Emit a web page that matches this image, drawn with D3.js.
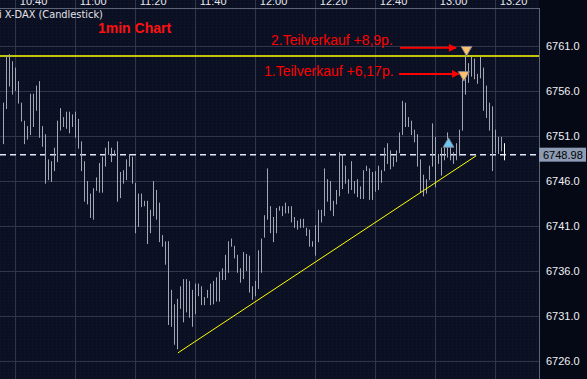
<!DOCTYPE html>
<html><head><meta charset="utf-8">
<script src="https://cdn.jsdelivr.net/npm/d3@7"></script>
<style>
html,body{margin:0;padding:0;background:#050916;}
svg{display:block;}
</style></head>
<body>
<svg id="c" width="587" height="379"></svg>
<script>
// ---- data (1-minute bars starting 10:36) ----
const startLabel = "10:36";
const highs = [6754.7,6759.9,6760.1,6759.3,6758.6,6757.1,6754.7,6752.7,6752.1,6755.7,
6755.7,6756.6,6757.1,6752.1,6751.2,6748.4,6748.2,6749.7,6752.7,6754.1,
6753.1,6753.7,6753.7,6753.4,6753.7,6752.9,6750.4,6748.2,6746.0,6744.6,
6745.2,6746.4,6748.0,6748.7,6749.7,6750.4,6749.7,6749.4,6750.4,6747.0,
6747.2,6748.4,6749.0,6748.7,6745.8,6744.6,6744.6,6743.8,6743.8,6742.8,
6746.0,6745.0,6743.6,6740.0,6739.3,6739.3,6733.9,6732.3,6732.9,6734.3,
6735.1,6735.1,6734.9,6733.9,6734.6,6734.6,6734.3,6733.1,6733.9,6734.6,
6734.9,6735.3,6735.9,6736.3,6737.8,6739.3,6739.6,6738.8,6737.8,6736.3,
6738.1,6737.9,6737.7,6734.3,6734.9,6738.3,6739.6,6742.2,6747.4,6743.2,
6742.0,6743.0,6743.2,6743.2,6743.6,6743.2,6743.2,6742.0,6741.6,6741.8,
6741.8,6740.8,6740.6,6739.3,6741.1,6742.8,6742.8,6747.4,6746.2,6746.0,
6743.8,6745.0,6749.2,6749.0,6747.7,6746.2,6748.2,6746.0,6746.2,6745.4,
6747.2,6747.7,6747.4,6747.0,6747.1,6747.7,6747.2,6749.7,6750.2,6749.4,
6748.7,6749.4,6751.4,6754.9,6754.7,6753.1,6752.7,6751.7,6751.2,6748.4,
6746.7,6746.2,6747.7,6752.4,6750.9,6749.0,6749.7,6749.7,6751.4,6750.2,
6749.2,6750.2,6751.7,6757.8,6759.9,6759.1,6759.8,6759.6,6757.9,6759.8,
6758.6,6756.6,6754.7,6754.3,6751.7,6750.9,6750.9,6750.2];
const lows = [6750.1,6754.0,6756.5,6755.6,6756.0,6754.6,6752.6,6750.1,6750.6,6751.1,
6752.0,6753.8,6750.8,6749.8,6745.7,6746.1,6745.9,6747.1,6748.1,6751.6,
6752.0,6751.8,6751.3,6752.0,6750.8,6749.6,6747.1,6743.7,6743.4,6741.9,
6741.7,6744.9,6744.7,6744.7,6747.6,6748.9,6748.1,6748.8,6743.7,6744.1,
6745.7,6746.1,6747.6,6745.7,6740.2,6740.9,6743.1,6743.2,6739.0,6740.2,
6742.1,6741.7,6739.2,6738.7,6736.7,6730.0,6729.8,6727.8,6727.3,6731.8,
6730.3,6731.4,6730.8,6729.8,6731.2,6733.2,6732.2,6732.2,6733.0,6732.2,
6732.3,6732.6,6732.6,6735.0,6735.0,6735.8,6738.7,6737.4,6735.8,6734.7,
6735.1,6736.0,6733.6,6732.8,6733.2,6734.0,6735.8,6739.7,6741.7,6740.2,
6739.2,6740.2,6742.7,6742.1,6742.4,6742.4,6741.4,6740.8,6740.6,6740.8,
6740.8,6739.9,6738.7,6738.7,6737.7,6739.2,6741.4,6742.1,6743.7,6742.7,
6742.1,6743.4,6744.3,6745.1,6745.7,6744.6,6745.0,6744.6,6744.2,6744.0,
6744.0,6747.1,6743.9,6743.9,6744.8,6745.0,6745.8,6747.1,6747.9,6747.3,
6747.6,6748.1,6749.1,6751.1,6752.0,6752.0,6751.1,6750.3,6747.6,6744.7,
6744.3,6744.6,6746.1,6747.6,6745.3,6747.9,6746.6,6748.3,6748.6,6748.3,
6747.9,6748.3,6748.8,6751.6,6755.6,6756.9,6757.6,6757.3,6756.8,6757.4,
6753.8,6753.0,6751.6,6747.1,6749.1,6749.0,6749.3,6748.3];
const timeTickLabels = ["10:40","11:00","11:20","11:40","12:00","12:20","12:40","13:00","13:20"];
const timeTickMinutes = [4,24,44,64,84,104,124,144,164]; // minutes after 10:36
const priceTicks = [6726,6731,6736,6741,6746,6751,6756,6761];
const lastPrice = 6748.98;
const resistancePrice = 6759.9;
const trendLine = [[58.2,6726.9],[157.6,6748.8]];
const sellSignals = [[154.4,6759.9],[153.5,6757.1]];
const buySignals = [[148.4,6750.8]];
const notes = ["2.Teilverkauf +8,9p.","1.Teilverkauf +6,17p."];
const noteArrowPrices = [6760.8,6757.9];
const title = "i X-DAX (Candlestick)";
const subtitle = "1min Chart";

// ---- layout ----
const W = 587, H = 379, plotR = 539, axisTop = 8;
const x = d3.scaleLinear().domain([0,180]).range([3.3,543.3]);
const y = d3.scaleLinear().domain([6726,6761]).range([361,46]);

const svg = d3.select("#c");
const defs = svg.append("defs");
const pat = defs.append("pattern").attr("id","dots").attr("width",4).attr("height",3).attr("patternUnits","userSpaceOnUse");
pat.append("rect").attr("width",4).attr("height",3).attr("fill","#0a1022");
pat.append("rect").attr("x",0).attr("y",0).attr("width",1).attr("height",1).attr("fill","#111a30");
pat.append("rect").attr("x",2).attr("y",1).attr("width",1).attr("height",1).attr("fill","#0d1428");

svg.append("rect").attr("width",W).attr("height",H).attr("fill","#050916");
svg.append("rect").attr("x",0).attr("y",0).attr("width",plotR).attr("height",H).attr("fill","url(#dots)");

// vertical grid (full height)
svg.append("g").selectAll("line").data(timeTickMinutes).join("line")
  .attr("x1",d=>Math.round(x(d))+0.5).attr("x2",d=>Math.round(x(d))+0.5)
  .attr("y1",0).attr("y2",H).attr("stroke","#30354a").attr("stroke-width",1);
// horizontal grid
svg.append("g").selectAll("line").data(priceTicks).join("line")
  .attr("x1",0).attr("x2",plotR).attr("y1",d=>Math.round(y(d))+0.5).attr("y2",d=>Math.round(y(d))+0.5)
  .attr("stroke","#30354a").attr("stroke-width",1);

// top time axis
const xAxis = d3.axisTop(x).tickValues(timeTickMinutes).tickSize(0)
  .tickFormat((d,i)=>timeTickLabels[i]);
const gx = svg.append("g").attr("transform","translate(0,0)").call(xAxis);
gx.select(".domain").remove();
gx.selectAll("text").attr("fill","#e8e8f0").attr("font-family","Liberation Sans, Arial, sans-serif")
  .attr("font-size",11).attr("text-anchor","start").attr("dx",4).attr("y",5).attr("dy",0);

// frame lines
svg.append("line").attr("x1",0).attr("x2",plotR).attr("y1",axisTop+0.5).attr("y2",axisTop+0.5).attr("stroke","#5d6476");
svg.append("line").attr("x1",plotR+0.5).attr("x2",plotR+0.5).attr("y1",axisTop).attr("y2",H).attr("stroke","#5d6476");

// right price axis
const yAxis = d3.axisRight(y).tickValues(priceTicks).tickSize(0).tickFormat(d3.format(".1f"));
const gy = svg.append("g").attr("transform",`translate(${plotR},0)`).call(yAxis);
gy.select(".domain").remove();
gy.selectAll("text").attr("fill","#f0f0f4").attr("font-family","Liberation Sans, Arial, sans-serif")
  .attr("font-size",11).attr("x",7).attr("dy","0.35em");

// resistance line
svg.append("line").attr("x1",0).attr("x2",plotR).attr("y1",y(resistancePrice)).attr("y2",y(resistancePrice))
  .attr("stroke","#ffff00").attr("stroke-width",1.5);

// last price dashed
svg.append("line").attr("x1",0).attr("x2",plotR).attr("y1",y(lastPrice)+0.5).attr("y2",y(lastPrice)+0.5)
  .attr("stroke","#dfe6f7").attr("stroke-width",1.6).attr("stroke-dasharray","6,4");

// bars
const bars = highs.map((h,i)=>({i,h,l:lows[i]}));
svg.append("g").selectAll("line").data(bars).join("line")
  .attr("x1",d=>Math.round(x(d.i))+0.5).attr("x2",d=>Math.round(x(d.i))+0.5)
  .attr("y1",d=>y(d.h)).attr("y2",d=>y(d.l))
  .attr("stroke",(d,i)=>i===bars.length-1?"#ffffff":"#a3a6b2").attr("stroke-width",1);

// trend line
svg.append("line").attr("x1",x(trendLine[0][0])).attr("y1",y(trendLine[0][1]))
  .attr("x2",x(trendLine[1][0])).attr("y2",y(trendLine[1][1]))
  .attr("stroke","#ffff00").attr("stroke-width",1);

// last price label box
svg.append("rect").attr("x",plotR).attr("y",y(lastPrice)-6.5).attr("width",47).attr("height",14)
  .attr("fill","#8d9bb4");
svg.append("text").attr("x",plotR+4).attr("y",y(lastPrice)+0.5).attr("dy","0.35em")
  .attr("font-family","Liberation Sans, Arial, sans-serif").attr("font-size",11).attr("fill","#000")
  .text(d3.format(".2f")(lastPrice));

// titles
svg.append("text").attr("x",-1).attr("y",18).attr("font-family","DejaVu Sans, Verdana, sans-serif")
  .attr("font-size",9.8).attr("fill","#e4e4ea").text(title);
svg.append("text").attr("x",98).attr("y",33).attr("font-family","Liberation Sans, Arial, sans-serif")
  .attr("font-size",14).attr("font-weight","bold").attr("fill","#ff1010").text(subtitle);

// notes with arrows
const noteX = [271,264];
defs.append("marker").attr("id","ah").attr("viewBox","0 0 10 10").attr("refX",9).attr("refY",5)
  .attr("markerWidth",4).attr("markerHeight",4).attr("orient","auto")
  .append("path").attr("d","M0,0L10,5L0,10Z").attr("fill","#ff0000");
notes.forEach((t,i)=>{
  const yy = y(noteArrowPrices[i]);
  svg.append("text").attr("x",noteX[i]).attr("y",yy-2+(i===0?-1:4)).attr("font-family","Liberation Sans, Arial, sans-serif")
    .attr("font-size",14).attr("fill","#ff0000").text(t);
  svg.append("line").attr("x1",i===0?400:399).attr("x2",i===0?456:459).attr("y1",yy).attr("y2",yy)
    .attr("stroke","#ff0000").attr("stroke-width",2).attr("marker-end","url(#ah)");
});

// signal triangles
svg.append("g").selectAll("path").data(sellSignals).join("path")
  .attr("transform",d=>`translate(${x(d[0])},${y(d[1])})`)
  .attr("d","M-5.5,-9.5L5.5,-9.5L0,0Z").attr("fill","#fdc26e").attr("stroke","#7d7f88").attr("stroke-width",1);
svg.append("g").selectAll("path").data(buySignals).join("path")
  .attr("transform",d=>`translate(${x(d[0])},${y(d[1])})`)
  .attr("d","M0,0L5.5,9.5L-5.5,9.5Z").attr("fill","#6cc6f4").attr("stroke","#7d7f88").attr("stroke-width",1);
</script>
</body></html>
